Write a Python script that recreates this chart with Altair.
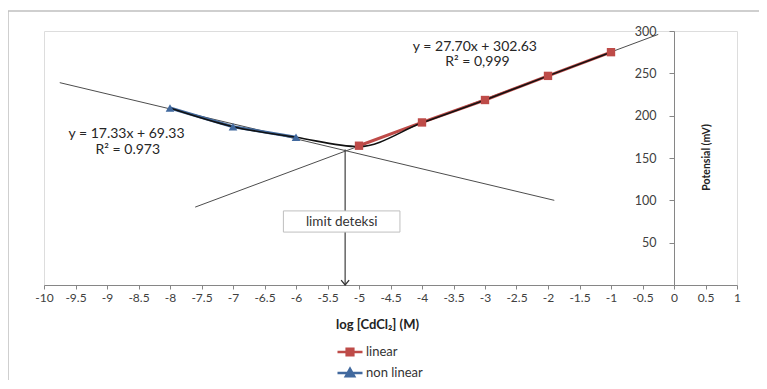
import altair as alt
import pandas as pd

# ---- data ----
lin_x = [-5, -4, -3, -2, -1]
lin_y = [164.5, 192, 218.5, 247, 275]
non_x = [-8, -7, -6]
non_y = [209, 187, 174.5]
curve_x = [-8, -7, -6, -5, -4, -3, -2, -1]
curve_y = [209, 187, 174.5, 163.5, 191.5, 218.5, 247, 275]
trend_lin_x = [-7.6, -0.25]
trend_lin_y = [92, 296]
trend_non_x = [-9.75, -1.9]
trend_non_y = [239, 100]
limit_x = [-5.22, -5.22]
limit_y = [160, 0]
box_x = [-6.2, -4.35]
box_y = [62.5, 87.5]
x_ticks = [-10, -9.5, -9, -8.5, -8, -7.5, -7, -6.5, -6, -5.5, -5, -4.5, -4,
           -3.5, -3, -2.5, -2, -1.5, -1, -0.5, 0, 0.5, 1]
y_ticks = [50, 100, 150, 200, 250, 300]
eq_text = ["y = 27.70x + 302.63", "R\u00b2 = 0,999", "y = 17.33x + 69.33", "R\u00b2 = 0.973"]
eq_x = [-3.16, -3.12, -8.69, -8.67]
eq_y = [281.5, 263, 178.5, 160]

RED = "#BE4B48"
BLUE = "#41699E"
FONT = "Lato"
W, H = 693, 254

x_axis = alt.Axis(values=x_ticks, labelExpr="datum.value + ''", tickSize=4, labelPadding=3,
                  domainColor="#868686", tickColor="#868686", labelColor="#404040",
                  labelFontSize=12, labelFont=FONT, labelOverlap=False, labelFlush=False,
                  title="log [CdCl\u2082] (M)", titleFont=FONT, titleFontWeight="bold",
                  titleFontSize=13, titleColor="#222222", titleX=333, titleY=39,
                  titleAlign="center", titleBaseline="middle", grid=False)
y_axis = alt.Axis(orient="left", offset=-630, values=y_ticks, tickSize=5, labelPadding=13,
                  domainColor="#868686", tickColor="#868686", labelColor="#404040",
                  labelFontSize=12.5, labelFont=FONT,
                  title="Potensial (mV)", titleFont=FONT, titleFontWeight="bold",
                  titleFontSize=10.5, titleColor="#222222", titleX=32, titleY=126,
                  titleAngle=270, titleAlign="center", titleBaseline="middle", grid=False)

xs = alt.Scale(domain=[-10, 1], nice=False, zero=False)
ys = alt.Scale(domain=[0, 300], nice=False, zero=False)


def X(f="x"):
    return alt.X(f"{f}:Q", scale=xs, axis=x_axis)


def Y(f="y"):
    return alt.Y(f"{f}:Q", scale=ys, axis=y_axis)


def df(xv, yv, **kw):
    d = pd.DataFrame({"x": xv, "y": yv})
    for k, v in kw.items():
        d[k] = v
    return d


red_df = df(lin_x, lin_y, series="linear")
blue_df = df(non_x, non_y, series="non linear")

RED_PATH = "M-1.5,0H1.5M-0.4,-0.4H0.4V0.4H-0.4Z"
BLUE_PATH = "M-1.5,0H1.5M-0.5,0.4L0,-0.5L0.5,0.4Z"


def leg(path, color, ly):
    return alt.Legend(title=None, orient="none", legendX=296, legendY=ly, symbolType=path,
                      symbolSize=278, symbolStrokeColor=color, symbolFillColor=color,
                      symbolStrokeWidth=2.5, symbolOpacity=1, labelFont=FONT, labelFontSize=13,
                      labelColor="#333333", labelOffset=6, padding=0)


def col(name, color, legend=None):
    return alt.Color("series:N", scale=alt.Scale(domain=[name], range=[color]), legend=legend)


frame_df = pd.DataFrame({"a": [0]})
frame_left = alt.Chart(frame_df).mark_rule(color="#BFBFBF", strokeWidth=1.5).encode(
    x=alt.value(-36), y=alt.value(-20), y2=alt.value(400))
frame_top = alt.Chart(frame_df).mark_rule(color="#BFBFBF", strokeWidth=1.5).encode(
    x=alt.value(-36), x2=alt.value(800), y=alt.value(-20))

trend1 = alt.Chart(df(trend_lin_x, trend_lin_y)).mark_line(color="#4D4D4D", strokeWidth=1).encode(x=X(), y=Y())
trend2 = alt.Chart(df(trend_non_x, trend_non_y)).mark_line(color="#4D4D4D", strokeWidth=1).encode(x=X(), y=Y())

arrow = alt.Chart(df(limit_x, limit_y)).mark_line(color="#4D4D4D", strokeWidth=1.3).encode(x=X(), y=Y())
arrow_head = alt.Chart(df(limit_x[1:], limit_y[1:])).mark_point(
    shape="M-1,-1.2L0,0L1,-1.2", size=64, filled=False, color="#333333", strokeWidth=1.3, opacity=1
).encode(x=X(), y=Y())

box = alt.Chart(pd.DataFrame({"x": [box_x[0]], "x2": [box_x[1]], "y": [box_y[0]], "y2": [box_y[1]]})).mark_rect(
    fill="white", stroke="#BFBFBF", strokeWidth=1).encode(x=X(), x2="x2:Q", y=Y(), y2="y2:Q")
box_text = alt.Chart(pd.DataFrame({"x": [sum(box_x) / 2], "y": [sum(box_y) / 2], "t": ["limit deteksi"]})).mark_text(
    font=FONT, fontSize=13.5, color="#333333", align="center", baseline="middle").encode(x=X(), y=Y(), text="t:N")

red_line = alt.Chart(red_df).mark_line(strokeWidth=3).encode(x=X(), y=Y(), color=col("linear", RED))
blue_line = alt.Chart(blue_df).mark_line(strokeWidth=3).encode(x=X(), y=Y(), color=col("non linear", BLUE))
curve = alt.Chart(df(curve_x, curve_y)).mark_line(color="#111111", strokeWidth=1.6, interpolate="monotone").encode(
    x=X(), y=Y())
red_pts = alt.Chart(red_df).mark_point(shape="square", filled=True, size=70, opacity=1).encode(
    x=X(), y=Y(), color=col("linear", RED, leg(RED_PATH, RED, 311)))
blue_pts = alt.Chart(blue_df).mark_point(shape="triangle-up", filled=True, size=75, opacity=1).encode(
    x=X(), y=Y(), color=col("non linear", BLUE, leg(BLUE_PATH, BLUE, 332)))

eqs = alt.Chart(pd.DataFrame({"x": eq_x, "y": eq_y, "t": eq_text})).mark_text(
    font=FONT, fontSize=14, color="#262626", align="center", baseline="middle").encode(x=X(), y=Y(), text="t:N")

chart = alt.layer(
    frame_left, frame_top, trend1, trend2, arrow, arrow_head, box, box_text,
    red_line, blue_line, curve, red_pts, blue_pts, eqs
).resolve_scale(color="independent").properties(
    width=W, height=H,
    autosize=alt.AutoSizeParams(type="none"),
    padding={"left": 36, "top": 23, "right": 22, "bottom": 95},
).configure_view(strokeWidth=0).configure(background="white")

chart.save("out.html", embed_options={"renderer": "svg", "actions": False})
